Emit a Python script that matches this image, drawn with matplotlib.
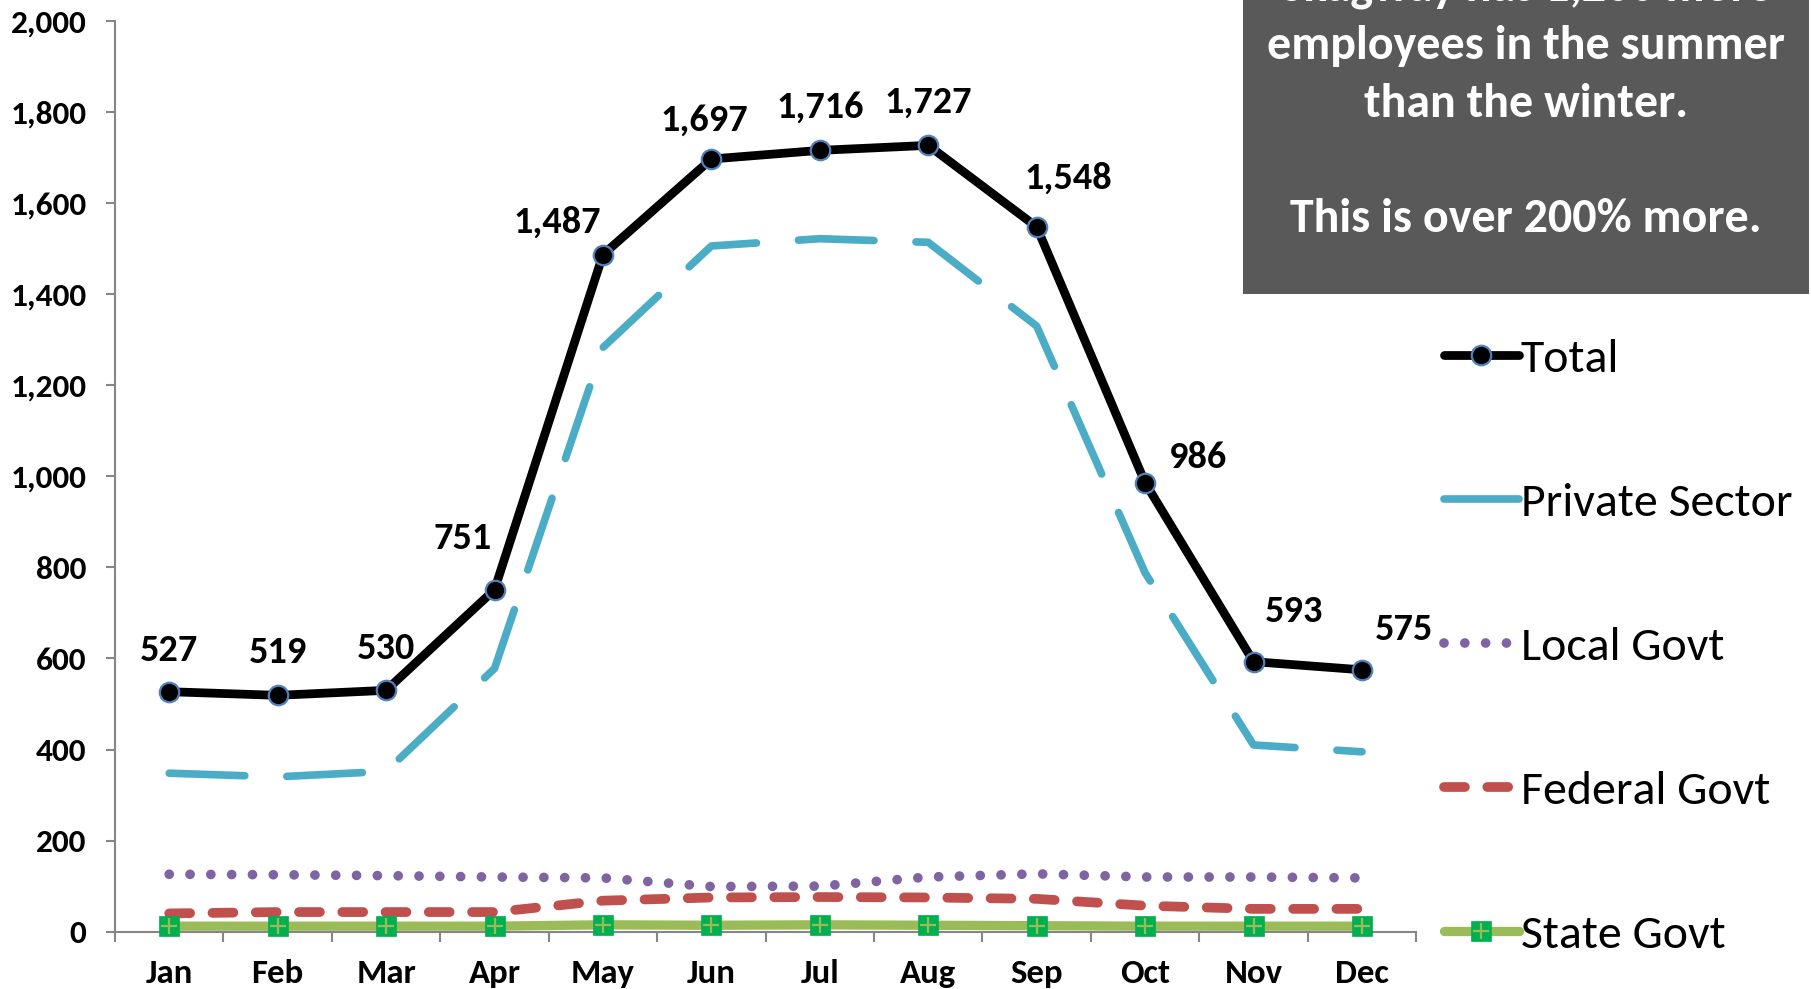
import numpy as np
import matplotlib
matplotlib.use("Agg")
import matplotlib.pyplot as plt
from matplotlib.patches import Rectangle

months = ["Jan", "Feb", "Mar", "Apr", "May", "Jun", "Jul", "Aug", "Sep", "Oct", "Nov", "Dec"]
total = [527, 519, 530, 751, 1487, 1697, 1716, 1727, 1548, 986, 593, 575]
private_sector = [348, 340, 352, 578, 1283, 1506, 1522, 1514, 1330, 788, 410, 395]
local_govt = [126, 125, 123, 120, 118, 99, 100, 120, 127, 120, 120, 118]
federal_govt = [40, 43, 43, 43, 68, 75, 76, 75, 72, 57, 50, 50]
state_govt = [12, 12, 12, 12, 15, 14, 15, 14, 13, 12, 12, 12]
series_names = ["Total", "Private Sector", "Local Govt", "Federal Govt", "State Govt"]
yticks = [0, 200, 400, 600, 800, 1000, 1200, 1400, 1600, 1800, 2000]
callout_lines = ["Skagway has 1,200 more", "employees in the summer", "than the winter.", "", "This is over 200% more."]

FONT = ["Carlito", "Open Sans", "DejaVu Sans"]
plt.rcParams["font.family"] = FONT

fig = plt.figure(figsize=(18.11, 9.89), dpi=100)
ax = fig.add_axes([0.0635, 0.058, 0.7185, 0.9207])

x = np.arange(len(months))

l_priv, = ax.plot(x, private_sector, color="#4BACC6", lw=5.5, dashes=(9.9, 5.5),
                  dash_capstyle="round", solid_capstyle="round", clip_on=False, zorder=3)
l_local, = ax.plot(x, local_govt, color="#8064A2", lw=7, dashes=(0.001, 2.14),
                   dash_capstyle="round", clip_on=False, zorder=3)
l_fed, = ax.plot(x, federal_govt, color="#C0504D", lw=7, dashes=(2.15, 2.3),
                 dash_capstyle="round", clip_on=False, zorder=3)
l_state, = ax.plot(x, state_govt, color="#9BBB59", lw=6.7, marker="s", markersize=15,
                   markerfacecolor="#00B050", markeredgecolor="#00B050", markeredgewidth=0.5,
                   solid_capstyle="round", clip_on=False, zorder=4)
l_plus, = ax.plot(x, state_govt, linestyle="none", marker="+", markersize=12,
                  markeredgecolor="#9BBB59", markeredgewidth=1.6, clip_on=False, zorder=5)
l_total, = ax.plot(x, total, color="black", lw=6.3, marker="o", markersize=14,
                   markerfacecolor="black", markeredgecolor="#4F81BD", markeredgewidth=1.6,
                   solid_capstyle="round", clip_on=False, zorder=6)

# data labels for Total
offsets = [(0, 30), (0, 31), (0, 30), (-23, 37), (-33, 23), (-5, 28), (0, 31), (0, 31),
           (23, 35), (38, 18), (29, 36), (30, 29)]
for xi, v, (dx, dy) in zip(x, total, offsets):
    ax.annotate(f"{v:,}", (xi, v), xytext=(dx, dy), textcoords="offset points",
                ha="center", va="center", fontsize=27.5, fontweight="bold", family=FONT,
                zorder=7)

ax.set_xlim(-0.5, 11.5)
ax.set_ylim(0, 2000)
ax.set_yticks(yticks)
ax.set_yticklabels([f"{t:,}" for t in yticks])
ax.set_xticks(x)
ax.set_xticklabels(months)
ax.set_xticks(np.arange(-0.5, 12, 1), minor=True)
ax.tick_params(axis="x", which="major", length=0, pad=20, labelsize=25)
ax.tick_params(axis="x", which="minor", length=7, width=1.5, color="#868686", direction="out")
ax.tick_params(axis="y", length=6.5, width=1.5, color="#868686", pad=14, labelsize=24)
for lab in ax.get_xticklabels() + ax.get_yticklabels():
    lab.set_fontweight("bold")
for s in ["top", "right"]:
    ax.spines[s].set_visible(False)
for s in ["left", "bottom"]:
    ax.spines[s].set_color("#868686")
    ax.spines[s].set_linewidth(1.5)

# legend
leg = fig.legend([l_total, l_priv, l_local, l_fed, (l_state, l_plus)], series_names,
                 loc="upper left", bbox_to_anchor=(0.7975, 0.658), frameon=False,
                 fontsize=34.5, handlelength=1.55, handletextpad=0.05, labelspacing=2.14,
                 borderpad=0, borderaxespad=0, numpoints=1)

# callout box
box = Rectangle((0.6864, 0.7027), 0.3125, 0.4, transform=fig.transFigure,
                facecolor="#595959", edgecolor="none", zorder=10)
fig.add_artist(box)
line_y_px = [-12, 46, 104, 162, 219]
for txt, ypx in zip(callout_lines, line_y_px):
    if txt:
        fig.text(0.8427, 1 - ypx / 989, txt, ha="center", va="center", color="white",
                 fontsize=34.5, fontweight="bold", zorder=11)

fig.savefig("out.png", dpi=100)
